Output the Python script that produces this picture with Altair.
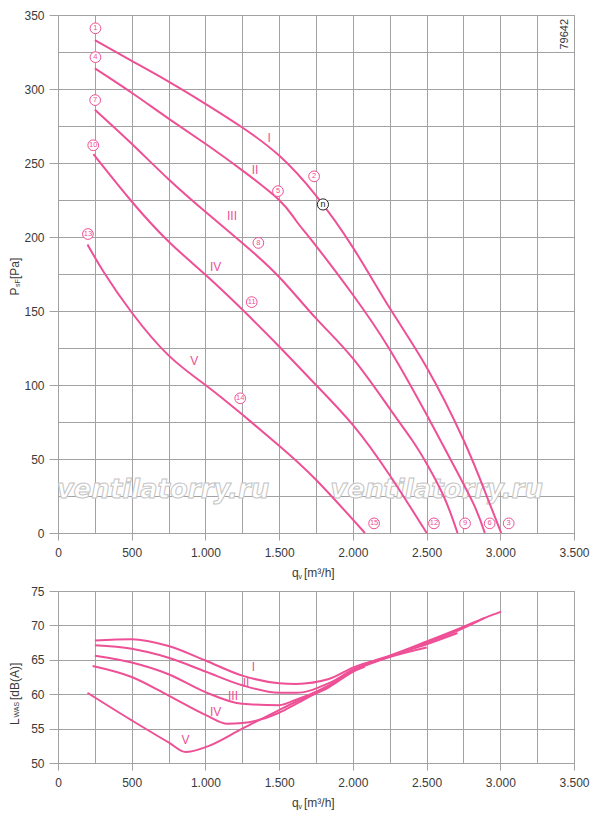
import altair as alt
import pandas as pd

PINK = "#ee5096"
GRID = "#a2a2a2"
INK = "#3a3a3a"
FONT = "Liberation Sans"

curves = ["I", "II", "III", "IV", "V"]

# static pressure p_sF [Pa] over air volume q_v [m3/h]
p_q_I = [250, 500, 750, 1000, 1250, 1500, 1750, 2000, 2250, 2500, 2750, 2900, 3006]
p_v_I = [333, 319, 305, 290, 274, 255, 228, 193, 152, 112, 63, 27, 0]
p_q_II = [250, 500, 750, 1000, 1250, 1500, 1615, 1750, 2000, 2250, 2500, 2661, 2817, 2895]
p_v_II = [314, 297.5, 280, 263, 245, 225, 211, 194, 161, 124, 80, 50, 20, 0]
p_q_III = [250, 500, 750, 1000, 1250, 1500, 1750, 2000, 2250, 2400, 2500, 2620, 2710]
p_v_III = [286, 263, 239, 217, 196, 173, 145, 118, 84, 63, 47, 24, 0]
p_q_IV = [240, 500, 750, 1000, 1250, 1500, 1750, 2000, 2250, 2501]
p_v_IV = [256, 224, 197, 174.5, 151, 126, 100, 73, 39, 0]
p_q_V = [200, 312, 500, 750, 1000, 1250, 1500, 1750, 2082]
p_v_V = [195, 176, 149, 120, 100, 80, 59, 36, 0]

# sound power L_WA5 [dB(A)] over air volume
l_q_I = [250, 500, 750, 1000, 1250, 1500, 1615, 1837, 2004, 2249, 2505, 2728, 2895, 3006]
l_v_I = [67.8, 68.0, 67.0, 64.9, 62.7, 61.6, 61.5, 62.2, 63.9, 65.6, 67.7, 69.6, 71.1, 72.0]
l_q_II = [250, 500, 750, 1000, 1250, 1500, 1615, 1837, 2004, 2249, 2505, 2728, 2895]
l_v_II = [67.1, 66.6, 65.3, 63.3, 61.3, 60.2, 60.2, 61.6, 63.6, 65.5, 67.5, 69.4, 71.1]
l_q_III = [250, 500, 750, 1000, 1250, 1500, 1615, 1837, 2004, 2249, 2505, 2710]
l_v_III = [65.6, 64.6, 62.9, 60.3, 58.6, 58.4, 59.2, 61.3, 63.5, 65.5, 67.3, 68.9]
l_q_IV = [235, 500, 750, 1000, 1150, 1250, 1500, 1615, 1837, 2004, 2249, 2501]
l_v_IV = [64.1, 62.5, 59.8, 57.0, 55.7, 55.8, 57.3, 58.6, 61.2, 63.4, 65.4, 66.8]
l_q_V = [200, 500, 750, 866, 1000, 1250, 1500, 1615, 1837, 2004, 2082]
l_v_V = [60.2, 56.2, 53.0, 51.6, 52.3, 55.0, 57.7, 58.9, 61.0, 63.3, 64.0]

# curve labels
p_lab_q = [1432, 1336, 1180, 1069, 924]
p_lab_v = [267, 245, 214, 180, 116]
l_lab_q = [1325, 1276, 1187, 1069, 864]
l_lab_v = [63.9, 61.6, 59.8, 57.4, 53.4]

# circled operating points
pt_names = ["1", "4", "7", "10", "13", "2", "5", "8", "11", "14", "15", "12", "9", "6", "3"]
pt_q = [254, 254, 252, 239, 203, 1737, 1492, 1359, 1314, 1236, 2144, 2550, 2761, 2928, 3057]
pt_v = [341, 321.5, 292.5, 262, 202, 241, 231, 196, 156, 91, 6.5, 6.5, 6.5, 6.5, 6.5]
n_q = [1797]
n_v = [222]

mark_q = [712, 2568]
mark_v = [29, 29]

W, H_TOP, H_BOT = 516, 518, 172


def long_df(qs, vs):
    rows = []
    for name, q, v in zip(curves, qs, vs):
        rows += [{"curve": name, "q": a, "v": b} for a, b in zip(q, v)]
    return pd.DataFrame(rows)


x_axis = alt.Axis(
    values=list(range(0, 3501, 250)),
    labelExpr="datum.value % 500 === 0 ? replace(format(datum.value, ','), ',', '.') : ''",
    title=None, grid=True, gridColor=GRID, domainColor=GRID, labelColor=INK,
    tickColor={"condition": {"test": "datum.value % 500 !== 0", "value": "transparent"}, "value": GRID},
    tickSize=7, labelPadding=7, labelFontSize=12, labelFont=FONT,
    labelFlush=False, labelOverlap=False,
)


def y_axis(ticks, lab_step):
    return alt.Axis(
        values=ticks,
        labelExpr=f"datum.value % {lab_step} === 0 ? datum.label : ''",
        title=None, grid=True, gridColor=GRID, domainColor=GRID, labelColor=INK,
        tickColor={"condition": {"test": f"datum.value % {lab_step} !== 0", "value": "transparent"}, "value": GRID},
        tickSize=9, labelPadding=5, labelFontSize=12, labelFont=FONT, labelOverlap=False,
    )


def xy(domain, axis):
    return dict(
        x=alt.X("q:Q", scale=alt.Scale(domain=[0, 3500], nice=False), axis=x_axis),
        y=alt.Y("v:Q", scale=alt.Scale(domain=domain, nice=False), axis=axis),
    )


def title_piece(text, x, y, size, angle=0):
    kw = dict(align="left", baseline="middle", fontSize=size, font=FONT, color=INK)
    if angle:
        kw["angle"] = angle
    return alt.Chart(pd.DataFrame({"t": [text]})).mark_text(**kw).encode(
        text="t:N", x=alt.value(x), y=alt.value(y))


def panel(df, lab_q, lab_v, enc, height, ytitle, interp):
    lines = alt.Chart(df).mark_line(color=PINK, strokeWidth=2, interpolate=interp).encode(
        detail="curve:N", **enc)
    labels = alt.Chart(pd.DataFrame({"q": lab_q, "v": lab_v, "t": curves})).mark_text(
        color=PINK, fontSize=12, font=FONT).encode(text="t:N", **enc)
    xt = [title_piece("q", 234, height + 40, 12),
          title_piece("v", 240.5, height + 44, 7),
          title_piece("[m³/h]", 246, height + 40, 12)]
    return lines, labels, xt + ytitle


# ---------- top: pressure ----------
p_df = long_df([p_q_I, p_q_II, p_q_III, p_q_IV, p_q_V], [p_v_I, p_v_II, p_v_III, p_v_IV, p_v_V])
p_enc = xy([0, 350], y_axis(list(range(0, 351, 25)), 50))
p_lines, p_labels, p_titles = panel(
    p_df, p_lab_q, p_lab_v, p_enc, H_TOP,
    [title_piece("P", -43, 280.5, 12, 270),
     title_piece("sF", -40.5, 272, 7, 270),
     title_piece("[Pa]", -43, 264, 12, 270)], "natural")

watermark = alt.Chart(pd.DataFrame({"q": mark_q, "v": mark_v, "t": ["ventilatorry.ru"] * 2})).mark_text(
    fontSize=26, fontStyle="italic", fontWeight="bold", font="DejaVu Sans",
    fill="white", stroke="#c4c4c4", strokeWidth=1
).encode(text="t:N", **p_enc)

pts = pd.DataFrame({"q": pt_q, "v": pt_v, "t": pt_names})
pt_circles = alt.Chart(pts).mark_circle(
    fill="white", stroke=PINK, strokeWidth=1, size=115, opacity=1).encode(**p_enc)
pt_text = alt.Chart(pts).mark_text(color=PINK, fontSize=7.5, font=FONT, baseline="middle").encode(
    text="t:N", **p_enc)

npt = pd.DataFrame({"q": n_q, "v": n_v, "t": ["n"]})
n_circle = alt.Chart(npt).mark_circle(
    fill="white", stroke="#222222", strokeWidth=1, size=125, opacity=1).encode(**p_enc)
n_text = alt.Chart(npt).mark_text(color="#222222", fontSize=9, font=FONT, baseline="middle").encode(
    text="t:N", **p_enc)

code = alt.Chart(pd.DataFrame({"q": [3440], "v": [337], "t": ["79642"]})).mark_text(
    angle=270, fontSize=11, font=FONT, color=INK, baseline="middle").encode(text="t:N", **p_enc)

top = alt.layer(watermark, p_lines, p_labels, pt_circles, pt_text, n_circle, n_text, code,
                *p_titles).properties(width=W, height=H_TOP)

# ---------- bottom: sound power ----------
l_df = long_df([l_q_I, l_q_II, l_q_III, l_q_IV, l_q_V], [l_v_I, l_v_II, l_v_III, l_v_IV, l_v_V])
l_enc = xy([50, 75], y_axis(list(range(50, 76, 5)), 5))
l_lines, l_labels, l_titles = panel(
    l_df, l_lab_q, l_lab_v, l_enc, H_BOT,
    [title_piece("L", -43.5, 134, 12, 270),
     title_piece("WAS", -41, 126.5, 7, 270),
     title_piece("[dB(A)]", -43.5, 109, 12, 270)], "monotone")

bottom = alt.layer(l_lines, l_labels, *l_titles).properties(width=W, height=H_BOT)

chart = alt.vconcat(top, bottom, spacing=3).properties(
    padding={"left": 0, "right": 0, "top": 0, "bottom": 0}
).configure_view(stroke=GRID, strokeWidth=1)

chart.save("out.html", embed_options={"renderer": "svg", "actions": False})
